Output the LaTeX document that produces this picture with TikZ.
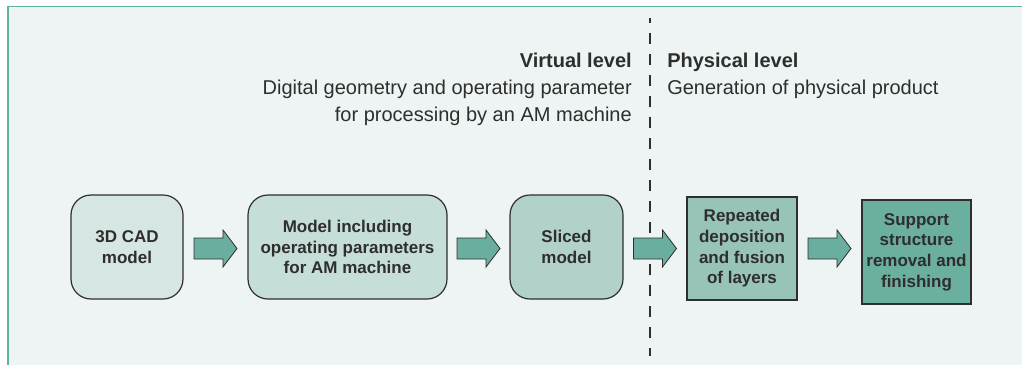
\documentclass[tikz,border=0pt]{standalone}
\usepackage{fontspec}
\setmainfont{Liberation Sans}
\usepackage{tikz}
\usetikzlibrary{calc}
\usepackage{xcolor}
\definecolor{panelbg}{HTML}{EEF4F3}
\definecolor{panelrule}{HTML}{5DB4A1}
\definecolor{inkgray}{HTML}{2E2E2E}
\definecolor{tealA}{HTML}{D6E6E2}
\definecolor{tealB}{HTML}{C6DED8}
\definecolor{tealC}{HTML}{B2D1CA}
\definecolor{tealD}{HTML}{97C3B9}
\definecolor{tealE}{HTML}{6BAF9F}
\definecolor{arrowteal}{HTML}{69AE9F}

\begin{document}
\begin{tikzpicture}[x=0.75pt,y=-0.75pt,
  stage/.style={draw=inkgray,line width=0.9pt,text=inkgray,align=center,inner sep=2pt,
    font=\bfseries\fontsize{12.75}{15.5}\selectfont},
  softstage/.style={stage,rounded corners=15pt},
  flow/.style={draw=inkgray,line width=0.6pt,fill=arrowteal,line join=miter},
  lvl/.style={text=inkgray,inner sep=0pt,font=\fontsize{15}{18}\selectfont}]
\useasboundingbox (0,0) rectangle (1022,365);
% panel
\fill[panelbg] (8,6.5) rectangle (1022,365);
\draw[panelrule,line width=1.1pt] (8,365) -- (8,6.5) -- (1022,6.5);

% level headings
\node[lvl,anchor=base east,font=\bfseries\fontsize{15}{18}\selectfont] (virthead) at (632,67) {Virtual level};
\node[lvl,anchor=base east] (virtline1) at (632,94) {Digital geometry and operating parameter};
\node[lvl,anchor=base east] (virtline2) at (632,121) {for processing by an AM machine};
\node[lvl,anchor=base west,font=\bfseries\fontsize{15}{18}\selectfont] (physhead) at (667,67) {Physical level};
\node[lvl,anchor=base west] (physline) at (667,94) {Generation of physical product};

% divider
\coordinate (divtop) at (650,18);
\coordinate (divbot) at (650,356);
\draw[inkgray,line width=1.8pt,dash pattern=on 8.25pt off 7.5pt,dash phase=4.5pt] (divtop) -- (divbot);

% stages
\node[softstage,fill=tealA,minimum width=84pt,minimum height=78pt] (cad) at (127,247) {3D CAD\\model};
\node[softstage,fill=tealB,minimum width=149.25pt,minimum height=78pt] (incl) at (347.5,247) {Model including\\operating parameters\\for AM machine};
\node[softstage,fill=tealC,minimum width=84.75pt,minimum height=78pt] (sliced) at (566.5,247) {Sliced\\model};
\node[stage,fill=tealD,minimum width=82.5pt,minimum height=77.25pt] (depo) at (742,248.5) {Repeated\\deposition\\and fusion\\of layers};
\node[stage,fill=tealE,minimum width=81.75pt,minimum height=78pt] (finish) at (916.5,252) {Support\\structure\\removal and\\finishing};

% flow arrows
\foreach \a/\b in {cad/incl,incl/sliced,sliced/depo,depo/finish}{
  \coordinate (mid) at ($(\a.east)!0.5!(\b.west)$);
  \draw[flow] ([shift={(-21.5,-10.5)}]mid |- 0,248.5) -- ++(29,0) -- ++(0,-8) -- ++(14,18.5)
    -- ++(-14,18.5) -- ++(0,-8) -- ++(-29,0) -- cycle;
}
\end{tikzpicture}
\end{document}
